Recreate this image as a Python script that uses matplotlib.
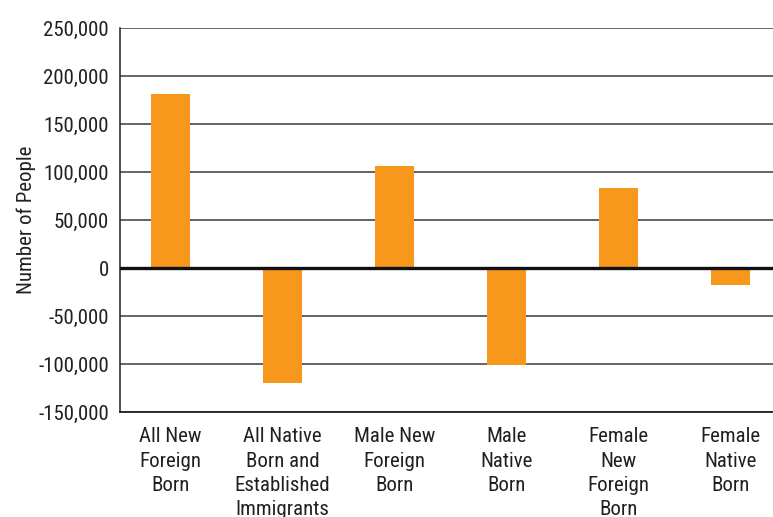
import matplotlib.pyplot as plt
from matplotlib.ticker import FuncFormatter

categories = ['All New\nForeign\nBorn', 'All Native\nBorn and\nEstablished\nImmigrants',
              'Male New\nForeign\nBorn', 'Male\nNative\nBorn',
              'Female\nNew\nForeign\nBorn', 'Female\nNative\nBorn']
values = [181000, -119500, 106000, -101500, 83500, -17500]
yticks = [-150000, -100000, -50000, 0, 50000, 100000, 150000, 200000, 250000]

plt.rcParams['font.family'] = ['Liberation Sans Narrow', 'Roboto Condensed', 'DejaVu Sans']
plt.rcParams['font.stretch'] = 'condensed'
text_color = '#231f20'

fig = plt.figure(figsize=(7.73, 5.17), dpi=100)
ax = fig.add_axes([120 / 773, 1 - 412 / 517, 653 / 773, 384 / 517])

x = list(range(len(categories)))
ax.bar(x, values, width=0.35, color='#f7981d', zorder=3)

ax.set_ylim(-150000, 250000)
ax.set_xlim(-0.45, -0.45 + 653 / 112)
ax.set_yticks(yticks)
ax.yaxis.set_major_formatter(FuncFormatter(lambda v, p: f'{int(v):,}'))
ax.grid(axis='y', color='#3a3a3a', linewidth=1.1, zorder=1)
ax.axhline(0, color='#111111', linewidth=2.4, zorder=4)

ax.set_xticks(x)
ax.set_xticklabels(categories, fontsize=15, color=text_color, linespacing=1.35, va='top')
ax.tick_params(axis='both', length=0, labelcolor=text_color, labelsize=15)
ax.tick_params(axis='x', pad=11)
ax.tick_params(axis='y', pad=8)

for side in ['top', 'right']:
    ax.spines[side].set_visible(False)
ax.spines['left'].set_color('#222222')
ax.spines['bottom'].set_color('#222222')
ax.spines['left'].set_linewidth(1.1)
ax.spines['bottom'].set_linewidth(1.3)

ax.set_ylabel('Number of People', fontsize=15, color=text_color)
ax.yaxis.set_label_coords(-0.128, 0.5)

fig.savefig('out.png', dpi=100)
